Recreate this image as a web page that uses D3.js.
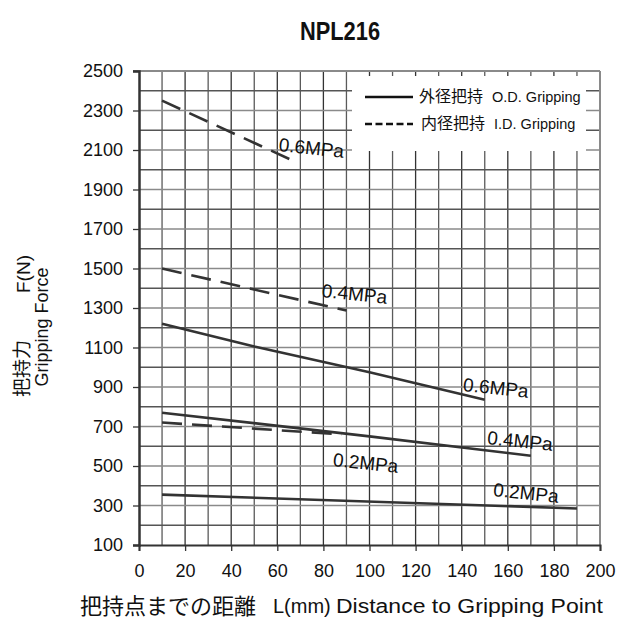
<!DOCTYPE html>
<html>
<head>
<meta charset="utf-8">
<script src="https://cdn.jsdelivr.net/npm/d3@7"></script>
<style>
  body { margin: 0; background: #fff; }
  text { font-family: "Liberation Sans", Arial, sans-serif; fill: #111; }
  .jp { font-family: "Noto Sans CJK JP", "Liberation Sans", sans-serif; }
</style>
</head>
<body>
<div id="grafico"></div>
<script>
// datos
const xTicks = [0, 20, 40, 60, 80, 100, 120, 140, 160, 180, 200];
const yTicks = [100, 300, 500, 700, 900, 1100, 1300, 1500, 1700, 1900, 2100, 2300, 2500];

// 外径把持 (O.D.) - linea continua
const od06 = [[10, 1220], [50, 1105], [100, 975], [150, 835]];
const od04 = [[10, 770], [100, 650], [170, 552]];
const od02 = [[10, 355], [190, 285]];
// 内径把持 (I.D.) - linea discontinua
const id06 = [[10, 2350], [67, 2045]];
const id04 = [[10, 1500], [90, 1287]];
const id02 = [[10, 720], [88, 660]];

const etiquetas = [
  { texto: "0.6MPa", x: 60.4, y: 2095 },
  { texto: "0.4MPa", x: 79.1, y: 1356 },
  { texto: "0.6MPa", x: 140.4, y: 880 },
  { texto: "0.4MPa", x: 150.9, y: 611 },
  { texto: "0.2MPa", x: 83.9, y: 500 },
  { texto: "0.2MPa", x: 153.5, y: 348 }
];

const width = 618, height = 621;
const svg = d3.select("#grafico").append("svg")
  .attr("width", width).attr("height", height);

const x = d3.scaleLinear().domain([0, 200]).range([139, 600]);
const y = d3.scaleLinear().domain([100, 2500]).range([545, 71]);

// titulo (fuente estrecha)
svg.append("text")
  .attr("transform", "translate(340,40) scale(0.84,1)")
  .attr("text-anchor", "middle")
  .style("font-weight", "bold")
  .style("font-size", "26px")
  .text("NPL216");

// rejilla
const gv = d3.range(10, 200, 10);
const gh = d3.range(200, 2500, 100);
svg.selectAll(".gv").data(gv).enter().append("line")
  .attr("x1", d => x(d)).attr("x2", d => x(d))
  .attr("y1", y(2500)).attr("y2", y(100))
  .attr("stroke", d => d % 20 === 0 ? "#333" : "#5a5a5a")
  .attr("stroke-width", 1.3);
svg.selectAll(".gh").data(gh).enter().append("line")
  .attr("x1", x(0)).attr("x2", x(200))
  .attr("y1", d => y(d)).attr("y2", d => y(d))
  .attr("stroke", d => d % 200 === 0 ? "#555" : "#8a8a8a")
  .attr("stroke-width", 1.3);

// caja blanca de la leyenda
svg.append("rect")
  .attr("x", 352).attr("y", 76)
  .attr("width", 586 - 352).attr("height", 151 - 76)
  .attr("fill", "#fff");

// bordes
svg.append("line").attr("x1", x(0) - 6).attr("x2", x(200)).attr("y1", y(2500)).attr("y2", y(2500))
  .attr("stroke", "#8a8a8a").attr("stroke-width", 2);
svg.append("line").attr("x1", x(200)).attr("x2", x(200)).attr("y1", y(2500)).attr("y2", y(100))
  .attr("stroke", "#8a8a8a").attr("stroke-width", 2);

// ejes
const ejeY = svg.append("g").attr("transform", `translate(${x(0)},0)`)
  .call(d3.axisLeft(y).tickValues(yTicks).tickSize(6).tickPadding(10).tickFormat(d3.format("d")));
const ejeX = svg.append("g").attr("transform", `translate(0,${y(100)})`)
  .call(d3.axisBottom(x).tickValues(xTicks).tickSize(6).tickPadding(13).tickFormat(d3.format("d")));
[ejeY, ejeX].forEach(g => {
  g.selectAll("text").style("font-size", "18px").style("fill", "#111")
    .style("font-family", "'Liberation Sans', Arial");
  g.selectAll(".tick line").attr("stroke", "#333").attr("stroke-width", 1.3);
});
ejeY.select(".domain").attr("stroke", "#333").attr("stroke-width", 2.5);
ejeX.select(".domain").attr("stroke", "#333").attr("stroke-width", 2);

// series
const linea = d3.line().x(d => x(d[0])).y(d => y(d[1]));
const series = [
  { datos: od06, dash: null },
  { datos: od04, dash: null },
  { datos: od02, dash: null },
  { datos: id06, dash: "20,10" },
  { datos: id04, dash: "20,10" },
  { datos: id02, dash: "20,10" }
];
svg.selectAll(".serie").data(series).enter().append("path")
  .attr("d", d => linea(d.datos))
  .attr("fill", "none")
  .attr("stroke", "#333")
  .attr("stroke-width", 2.6)
  .attr("stroke-dasharray", d => d.dash);

// etiquetas de presion
svg.selectAll(".etq").data(etiquetas).enter().append("text")
  .attr("transform", d => `translate(${x(d.x)},${y(d.y)}) rotate(6)`)
  .attr("text-anchor", "start")
  .style("font-size", "19px")
  .text(d => d.texto);

// leyenda
svg.append("line").attr("x1", 365).attr("x2", 413).attr("y1", 97).attr("y2", 97)
  .attr("stroke", "#111").attr("stroke-width", 2.5);
svg.append("line").attr("x1", 365).attr("x2", 413).attr("y1", 124).attr("y2", 124)
  .attr("stroke", "#111").attr("stroke-width", 2.5).attr("stroke-dasharray", "7,3.5");
const ley1 = svg.append("text").attr("x", 419).attr("y", 102).style("font-size", "14.5px");
ley1.append("tspan").attr("class", "jp").style("font-size", "16px").text("外径把持");
ley1.append("tspan").attr("dx", 9).text("O.D. Gripping");
const ley2 = svg.append("text").attr("x", 421).attr("y", 129).style("font-size", "14.5px");
ley2.append("tspan").attr("class", "jp").style("font-size", "16px").text("内径把持");
ley2.append("tspan").attr("dx", 9).text("I.D. Gripping");

// titulo eje Y
svg.append("text")
  .attr("class", "jp")
  .attr("transform", "translate(29,397) rotate(-90)")
  .style("font-size", "19px")
  .text("把持力");
svg.append("text")
  .attr("transform", "translate(30,293) rotate(-90)")
  .style("font-size", "19px")
  .text("F(N)");
svg.append("text")
  .attr("transform", "translate(48,327) rotate(-90)")
  .attr("text-anchor", "middle")
  .style("font-size", "18px")
  .text("Gripping Force");

// titulo eje X
svg.append("text").attr("class", "jp")
  .attr("x", 80).attr("y", 614).style("font-size", "22px")
  .text("把持点までの距離");
svg.append("text")
  .attr("x", 273).attr("y", 613).style("font-size", "20px")
  .text("L(mm)");
svg.append("text")
  .attr("x", 336).attr("y", 613).style("font-size", "20px")
  .attr("textLength", 267).attr("lengthAdjust", "spacingAndGlyphs")
  .text("Distance to Gripping Point");
</script>
</body>
</html>
